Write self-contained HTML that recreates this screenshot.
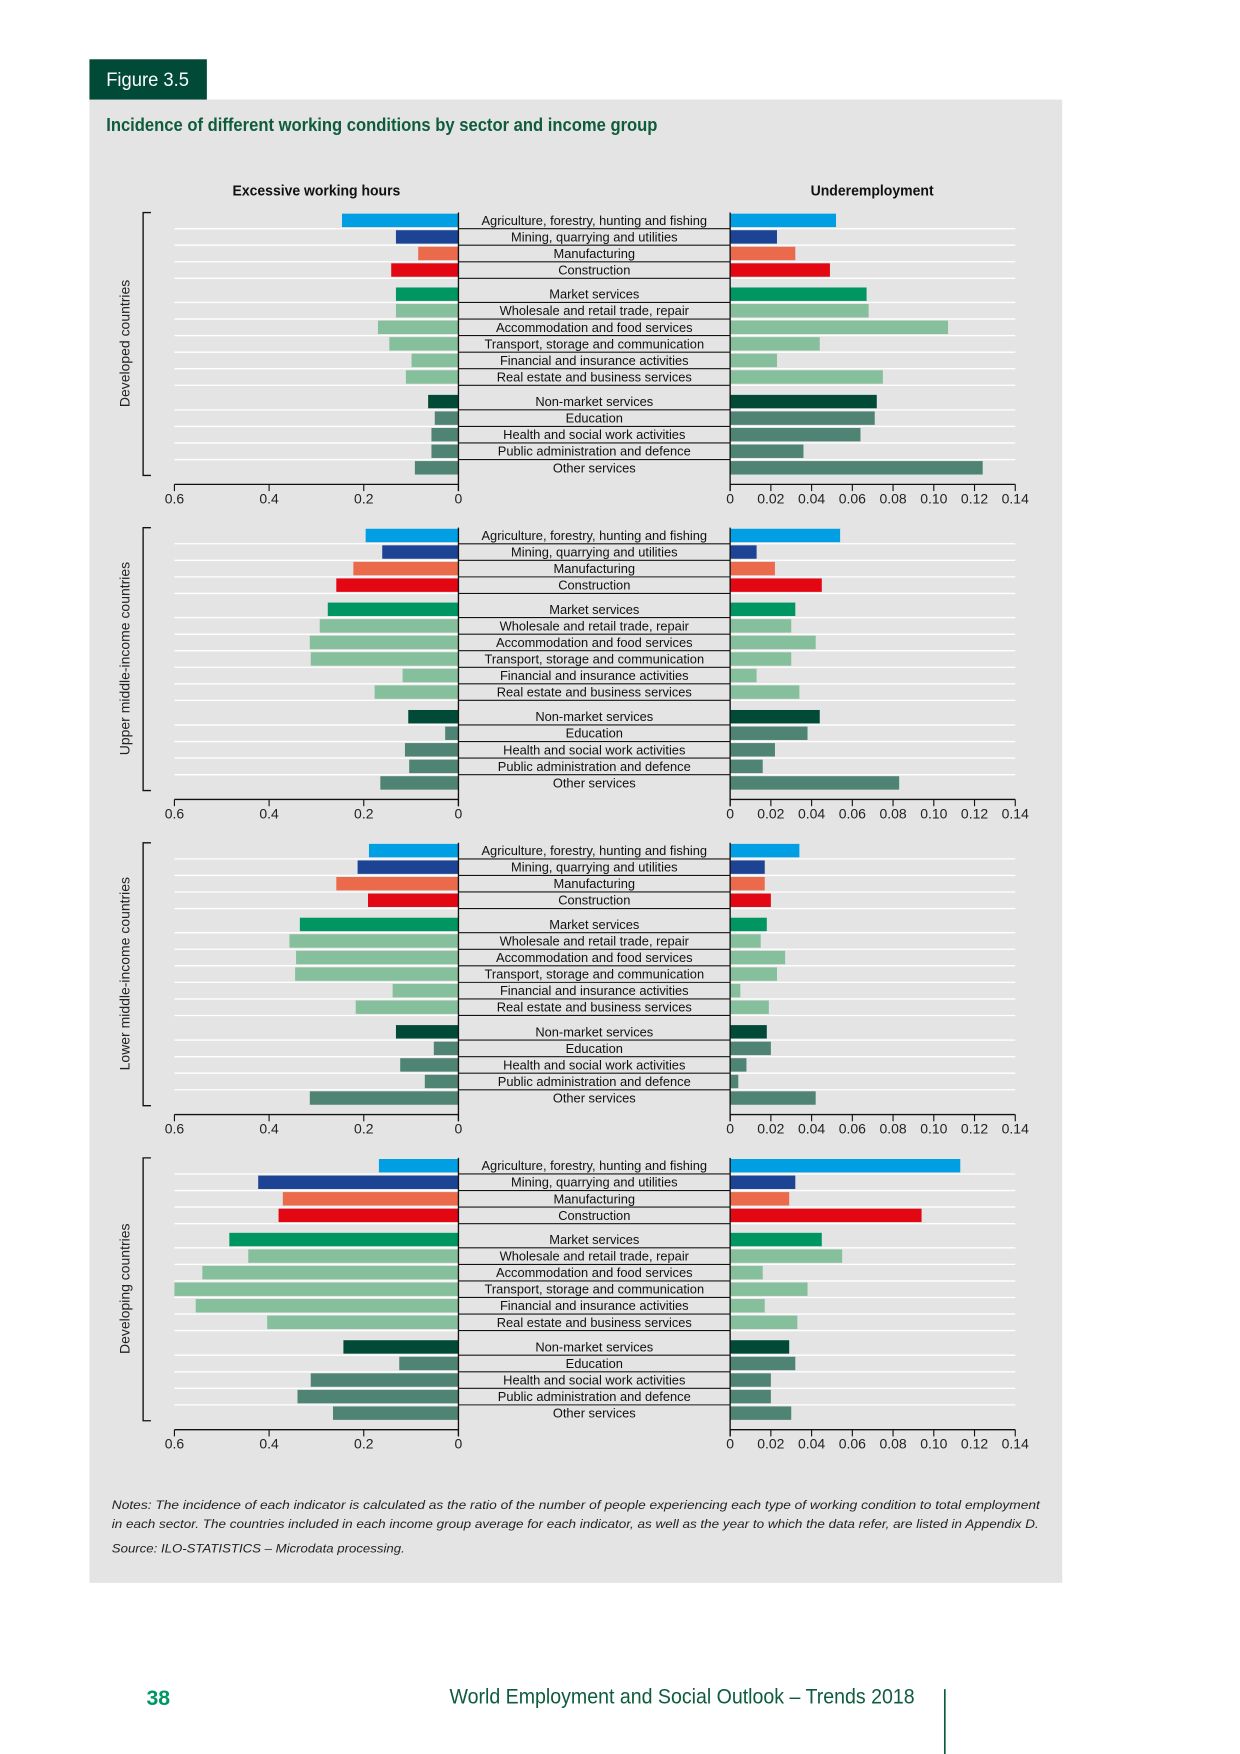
<!DOCTYPE html>
<html><head><meta charset="utf-8"><style>
html,body{margin:0;padding:0;background:#fff;width:1240px;height:1754px;overflow:hidden}
svg{display:block}
text{font-family:"Liberation Sans Narrow","Liberation Sans",sans-serif}
</style></head><body>
<svg id="fig" width="1240" height="1754" viewBox="0 0 1109 1568" preserveAspectRatio="none" xmlns="http://www.w3.org/2000/svg">
<rect x="80" y="89" width="870" height="1326" fill="#e3e4e3"/>
<rect x="80" y="53" width="105" height="36" fill="#004a37"/>
<text x="95" y="77" fill="#fff" font-size="17" textLength="74" lengthAdjust="spacingAndGlyphs">Figure 3.5</text>
<text x="95" y="117" fill="#0f5c3d" font-size="16.5" font-weight="bold" textLength="493" lengthAdjust="spacingAndGlyphs">Incidence of different working conditions by sector and income group</text>
<text x="283" y="175" text-anchor="middle" font-size="13.5" font-weight="bold" fill="#111" textLength="150" lengthAdjust="spacingAndGlyphs">Excessive working hours</text>
<text x="780" y="175" text-anchor="middle" font-size="13.5" font-weight="bold" fill="#111" textLength="110" lengthAdjust="spacingAndGlyphs">Underemployment</text>
<g id="panels"></g>
<text x="100" y="1349" font-size="11" font-style="italic" fill="#222" textLength="830" lengthAdjust="spacingAndGlyphs">Notes: The incidence of each indicator is calculated as the ratio of the number of people experiencing each type of working condition to total employment</text>
<text x="100" y="1366" font-size="11" font-style="italic" fill="#222" textLength="829" lengthAdjust="spacingAndGlyphs">in each sector. The countries included in each income group average for each indicator, as well as the year to which the data refer, are listed in Appendix D.</text>
<text x="100" y="1388" font-size="11" font-style="italic" fill="#222" textLength="262" lengthAdjust="spacingAndGlyphs">Source: ILO-STATISTICS – Microdata processing.</text>
<text x="131" y="1524" font-size="19" font-weight="bold" fill="#009661">38</text>
<text x="402" y="1523" font-size="19" fill="#0f5c3d" textLength="416" lengthAdjust="spacingAndGlyphs">World Employment and Social Outlook – Trends 2018</text>
<line x1="845" y1="1510" x2="845" y2="1568" stroke="#0f5c3d" stroke-width="1.5"/>
</svg>
<script>
const sectors = ["Agriculture, forestry, hunting and fishing","Mining, quarrying and utilities","Manufacturing","Construction","Market services","Wholesale and retail trade, repair","Accommodation and food services","Transport, storage and communication","Financial and insurance activities","Real estate and business services","Non-market services","Education","Health and social work activities","Public administration and defence","Other services"];
const groups = ["Developed countries","Upper middle-income countries","Lower middle-income countries","Developing countries"];
const excessiveDeveloped = [0.246,0.132,0.085,0.142,0.132,0.132,0.170,0.146,0.099,0.111,0.064,0.050,0.057,0.057,0.092];
const excessiveUpperMiddle = [0.196,0.161,0.222,0.258,0.276,0.293,0.314,0.312,0.118,0.177,0.106,0.028,0.113,0.104,0.165];
const excessiveLowerMiddle = [0.189,0.213,0.258,0.191,0.335,0.357,0.343,0.345,0.139,0.217,0.132,0.052,0.123,0.071,0.314];
const excessiveDeveloping = [0.168,0.423,0.371,0.380,0.484,0.444,0.541,0.600,0.555,0.404,0.243,0.125,0.312,0.340,0.265];
const underDeveloped = [0.052,0.023,0.032,0.049,0.067,0.068,0.107,0.044,0.023,0.075,0.072,0.071,0.064,0.036,0.124];
const underUpperMiddle = [0.054,0.013,0.022,0.045,0.032,0.030,0.042,0.030,0.013,0.034,0.044,0.038,0.022,0.016,0.083];
const underLowerMiddle = [0.034,0.017,0.017,0.020,0.018,0.015,0.027,0.023,0.005,0.019,0.018,0.020,0.008,0.004,0.042];
const underDeveloping = [0.113,0.032,0.029,0.094,0.045,0.055,0.016,0.038,0.017,0.033,0.029,0.032,0.020,0.020,0.030];
const leftTicks = [0.6,0.4,0.2,0];
const leftTickLabels = ["0.6","0.4","0.2","0"];
const rightTicks = [0,0.02,0.04,0.06,0.08,0.10,0.12,0.14];
const rightTickLabels = ["0","0.02","0.04","0.06","0.08","0.10","0.12","0.14"];
const excessive = [excessiveDeveloped,excessiveUpperMiddle,excessiveLowerMiddle,excessiveDeveloping];
const under = [underDeveloped,underUpperMiddle,underLowerMiddle,underDeveloping];

const colors = ["#009fe3","#1d4394","#ec6a4c","#e30613","#009661","#86bf9b","#86bf9b","#86bf9b","#86bf9b","#86bf9b","#004a37","#4f8373","#4f8373","#4f8373","#4f8373"];
const NS="http://www.w3.org/2000/svg";
const L0=410, R0=653;
function xLeft(v){return L0-v*(254/0.6);}
function xRight(v){return R0+v*(255/0.14);}
function rowY(base,i){
  let off = i<4 ? i*14.8 : (i<10 ? 66+(i-4)*14.8 : 162+(i-10)*14.8);
  return base+off;
}
function mk(tag,attrs,parent){const e=document.createElementNS(NS,tag);for(const k in attrs)e.setAttribute(k,attrs[k]);parent.appendChild(e);return e;}
const root=document.getElementById('panels');
groups.forEach((gname,p)=>{
  const base=197+p*281.7;
  const g=mk('g',{},root);
  
  
  for(let i=0;i<14;i++){
    const y=rowY(base,i)+7.4;
    const wl=mk('line',{x1:156,x2:908,y1:y,y2:y,stroke:'#fff','stroke-width':1.2},g);
    
    
    const bl=mk('line',{x1:L0,x2:R0,y1:y,y2:y,stroke:'#111','stroke-width':1},g);
    
    
  }
  sectors.forEach((s,i)=>{
    const y=rowY(base,i);
    const bx=xLeft(excessive[p][i]);
    const b1=mk('rect',{x:bx,y:y-6,width:L0-bx,height:12,fill:colors[i]},g);
    
    
    const b2=mk('rect',{x:R0,y:y-6,width:xRight(under[p][i])-R0,height:12,fill:colors[i]},g);
    
    
    const t=mk('text',{x:531.5,y:y+4,'text-anchor':'middle','font-size':11.5,fill:'#111'},g);
    t.textContent=s;
    
    
  });
  const axY=base+236;
  [[L0,base-7,L0,axY+6],[R0,base-7,R0,axY+6],[156,axY,L0,axY],[R0,axY,908,axY]].forEach(c=>{
    const l=mk('line',{x1:c[0],y1:c[1],x2:c[2],y2:c[3],stroke:'#111','stroke-width':1.2},g);
    
    
  });
  leftTicks.forEach((v,k)=>{
    const x=xLeft(v);
    const tk=mk('line',{x1:x,x2:x,y1:axY,y2:axY+6,stroke:'#111'},g);
    
    
    const tl=mk('text',{x:x,y:axY+17,'text-anchor':'middle','font-size':12.5,fill:'#222'},g);
    tl.textContent=leftTickLabels[k];
    
    
  });
  rightTicks.forEach((v,k)=>{
    const x=xRight(v);
    const tk=mk('line',{x1:x,x2:x,y1:axY,y2:axY+6,stroke:'#111'},g);
    
    
    const tl=mk('text',{x:x,y:axY+17,'text-anchor':'middle','font-size':12.5,fill:'#222'},g);
    tl.textContent=rightTickLabels[k];
    
    
  });
  const br=mk('path',{d:`M135 ${base-7} H128 V${base+228} H135`,fill:'none',stroke:'#111','stroke-width':1.2},g);
  
  
  const cy=base+110;
  const gl=mk('text',{x:116,y:cy,transform:`rotate(-90 116 ${cy})`,'text-anchor':'middle','font-size':12.5,fill:'#222','font-family':'Liberation Sans, sans-serif'},g);
  gl.textContent=gname;
  
  
});
</script>
</body></html>
